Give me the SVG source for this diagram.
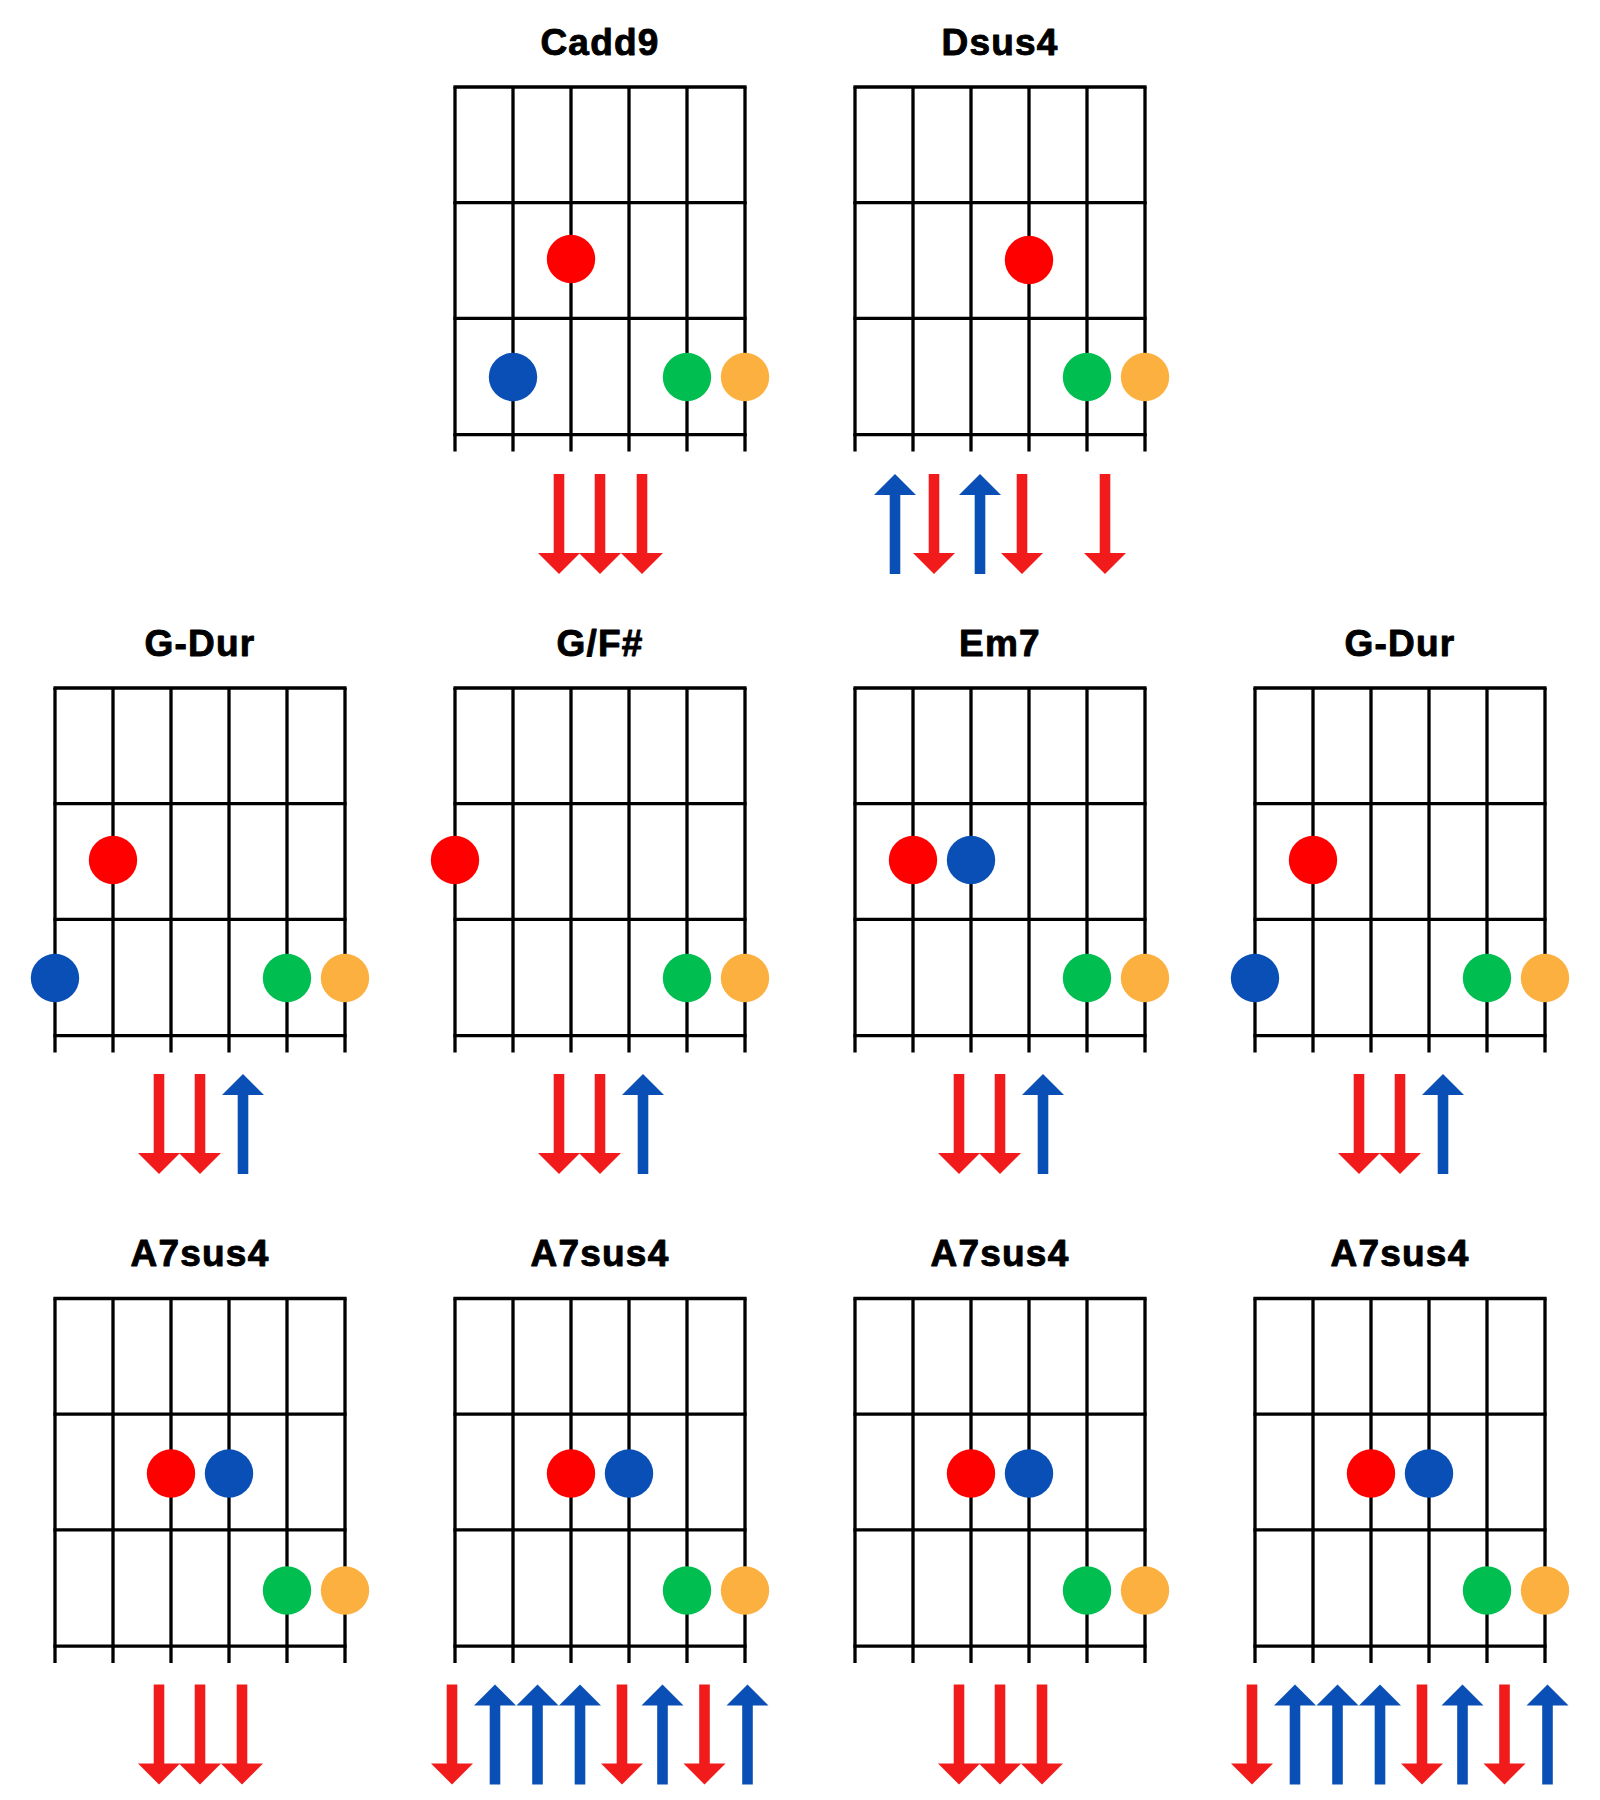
<svg xmlns="http://www.w3.org/2000/svg" xmlns:xlink="http://www.w3.org/1999/xlink" width="1600" height="1800" viewBox="0 0 1600 1800">
  <style>
    .title { font-family: "Liberation Sans", Arial, sans-serif; font-weight: 700; font-size: 37px; fill: #000; stroke: #000; stroke-width: 0.9px; stroke-linejoin: round; text-anchor: middle; letter-spacing: 1.2px; }
    .grid line { stroke: #000; stroke-width: 3.3; }
    .dr { fill: #ff0000; }
    .db { fill: #0a4fb5; }
    .dg { fill: #00bf50; }
    .do { fill: #fbb040; }
    .ar { fill: #f21b1b; }
    .ab { fill: #0a4fb5; }
  </style>
  <defs>
    <g id="grid" class="grid">
      <line x1="-1.6" y1="0" x2="291.6" y2="0"/>
      <line x1="-1.6" y1="115.7" x2="291.6" y2="115.7"/>
      <line x1="-1.6" y1="231.4" x2="291.6" y2="231.4"/>
      <line x1="-1.6" y1="347.7" x2="291.6" y2="347.7"/>
      <line x1="0" y1="0" x2="0" y2="364.5"/>
      <line x1="58" y1="0" x2="58" y2="364.5"/>
      <line x1="116" y1="0" x2="116" y2="364.5"/>
      <line x1="174" y1="0" x2="174" y2="364.5"/>
      <line x1="232" y1="0" x2="232" y2="364.5"/>
      <line x1="290" y1="0" x2="290" y2="364.5"/>
    </g>
    <path id="dn" d="M-5.3,0 H5.3 V79 H21 L0,100 L-21,79 H-5.3 Z"/>
    <path id="up" d="M-5.3,100 H5.3 V21 H21 L0,0 L-21,21 H-5.3 Z"/>
  </defs>
  <rect x="0" y="0" width="1600" height="1800" fill="#ffffff"/>

  <!-- Row 1 -->
  <g id="chord-cadd9" transform="translate(455,87)">
    <text class="title" x="145" y="-32.5">Cadd9</text>
    <use xlink:href="#grid" href="#grid"/>
    <circle class="dr" cx="116" cy="172" r="24.2"/>
    <circle class="db" cx="58" cy="290" r="24.2"/>
    <circle class="dg" cx="232" cy="290" r="24.2"/>
    <circle class="do" cx="290" cy="290" r="24.2"/>
    <use class="ar" xlink:href="#dn" href="#dn" x="104" y="387"/>
    <use class="ar" xlink:href="#dn" href="#dn" x="145" y="387"/>
    <use class="ar" xlink:href="#dn" href="#dn" x="187" y="387"/>
  </g>

  <g id="chord-dsus4" transform="translate(855,87)">
    <text class="title" x="145" y="-32.5">Dsus4</text>
    <use xlink:href="#grid" href="#grid"/>
    <circle class="dr" cx="174" cy="173" r="24.2"/>
    <circle class="dg" cx="232" cy="290" r="24.2"/>
    <circle class="do" cx="290" cy="290" r="24.2"/>
    <use class="ab" xlink:href="#up" href="#up" x="40" y="387"/>
    <use class="ar" xlink:href="#dn" href="#dn" x="79" y="387"/>
    <use class="ab" xlink:href="#up" href="#up" x="125" y="387"/>
    <use class="ar" xlink:href="#dn" href="#dn" x="167" y="387"/>
    <use class="ar" xlink:href="#dn" href="#dn" x="250" y="387"/>
  </g>

  <!-- Row 2 -->
  <g id="chord-gdur-1" transform="translate(55,688)">
    <text class="title" x="145" y="-32.5">G-Dur</text>
    <use xlink:href="#grid" href="#grid"/>
    <circle class="dr" cx="58" cy="172" r="24.2"/>
    <circle class="db" cx="0" cy="290" r="24.2"/>
    <circle class="dg" cx="232" cy="290" r="24.2"/>
    <circle class="do" cx="290" cy="290" r="24.2"/>
    <use class="ar" xlink:href="#dn" href="#dn" x="104" y="386"/>
    <use class="ar" xlink:href="#dn" href="#dn" x="145" y="386"/>
    <use class="ab" xlink:href="#up" href="#up" x="188" y="386"/>
  </g>

  <g id="chord-gfsharp" transform="translate(455,688)">
    <text class="title" x="145" y="-32.5">G/F#</text>
    <use xlink:href="#grid" href="#grid"/>
    <circle class="dr" cx="0" cy="172" r="24.2"/>
    <circle class="dg" cx="232" cy="290" r="24.2"/>
    <circle class="do" cx="290" cy="290" r="24.2"/>
    <use class="ar" xlink:href="#dn" href="#dn" x="104" y="386"/>
    <use class="ar" xlink:href="#dn" href="#dn" x="145" y="386"/>
    <use class="ab" xlink:href="#up" href="#up" x="188" y="386"/>
  </g>

  <g id="chord-em7" transform="translate(855,688)">
    <text class="title" x="145" y="-32.5">Em7</text>
    <use xlink:href="#grid" href="#grid"/>
    <circle class="dr" cx="58" cy="172" r="24.2"/>
    <circle class="db" cx="116" cy="172" r="24.2"/>
    <circle class="dg" cx="232" cy="290" r="24.2"/>
    <circle class="do" cx="290" cy="290" r="24.2"/>
    <use class="ar" xlink:href="#dn" href="#dn" x="104" y="386"/>
    <use class="ar" xlink:href="#dn" href="#dn" x="145" y="386"/>
    <use class="ab" xlink:href="#up" href="#up" x="188" y="386"/>
  </g>

  <g id="chord-gdur-2" transform="translate(1255,688)">
    <text class="title" x="145" y="-32.5">G-Dur</text>
    <use xlink:href="#grid" href="#grid"/>
    <circle class="dr" cx="58" cy="172" r="24.2"/>
    <circle class="db" cx="0" cy="290" r="24.2"/>
    <circle class="dg" cx="232" cy="290" r="24.2"/>
    <circle class="do" cx="290" cy="290" r="24.2"/>
    <use class="ar" xlink:href="#dn" href="#dn" x="104" y="386"/>
    <use class="ar" xlink:href="#dn" href="#dn" x="145" y="386"/>
    <use class="ab" xlink:href="#up" href="#up" x="188" y="386"/>
  </g>

  <!-- Row 3 -->
  <g id="chord-a7sus4-1" transform="translate(55,1298.5)">
    <text class="title" x="145" y="-32.5">A7sus4</text>
    <use xlink:href="#grid" href="#grid"/>
    <circle class="dr" cx="116" cy="175" r="24.2"/>
    <circle class="db" cx="174" cy="175" r="24.2"/>
    <circle class="dg" cx="232" cy="292" r="24.2"/>
    <circle class="do" cx="290" cy="292" r="24.2"/>
    <use class="ar" xlink:href="#dn" href="#dn" x="104" y="386"/>
    <use class="ar" xlink:href="#dn" href="#dn" x="145" y="386"/>
    <use class="ar" xlink:href="#dn" href="#dn" x="187" y="386"/>
  </g>

  <g id="chord-a7sus4-2" transform="translate(455,1298.5)">
    <text class="title" x="145" y="-32.5">A7sus4</text>
    <use xlink:href="#grid" href="#grid"/>
    <circle class="dr" cx="116" cy="175" r="24.2"/>
    <circle class="db" cx="174" cy="175" r="24.2"/>
    <circle class="dg" cx="232" cy="292" r="24.2"/>
    <circle class="do" cx="290" cy="292" r="24.2"/>
    <use class="ar" xlink:href="#dn" href="#dn" x="-3" y="386"/>
    <use class="ab" xlink:href="#up" href="#up" x="40" y="386"/>
    <use class="ab" xlink:href="#up" href="#up" x="82.5" y="386"/>
    <use class="ab" xlink:href="#up" href="#up" x="125" y="386"/>
    <use class="ar" xlink:href="#dn" href="#dn" x="167" y="386"/>
    <use class="ab" xlink:href="#up" href="#up" x="207.5" y="386"/>
    <use class="ar" xlink:href="#dn" href="#dn" x="249.5" y="386"/>
    <use class="ab" xlink:href="#up" href="#up" x="292.5" y="386"/>
  </g>

  <g id="chord-a7sus4-3" transform="translate(855,1298.5)">
    <text class="title" x="145" y="-32.5">A7sus4</text>
    <use xlink:href="#grid" href="#grid"/>
    <circle class="dr" cx="116" cy="175" r="24.2"/>
    <circle class="db" cx="174" cy="175" r="24.2"/>
    <circle class="dg" cx="232" cy="292" r="24.2"/>
    <circle class="do" cx="290" cy="292" r="24.2"/>
    <use class="ar" xlink:href="#dn" href="#dn" x="104" y="386"/>
    <use class="ar" xlink:href="#dn" href="#dn" x="145" y="386"/>
    <use class="ar" xlink:href="#dn" href="#dn" x="187" y="386"/>
  </g>

  <g id="chord-a7sus4-4" transform="translate(1255,1298.5)">
    <text class="title" x="145" y="-32.5">A7sus4</text>
    <use xlink:href="#grid" href="#grid"/>
    <circle class="dr" cx="116" cy="175" r="24.2"/>
    <circle class="db" cx="174" cy="175" r="24.2"/>
    <circle class="dg" cx="232" cy="292" r="24.2"/>
    <circle class="do" cx="290" cy="292" r="24.2"/>
    <use class="ar" xlink:href="#dn" href="#dn" x="-3" y="386"/>
    <use class="ab" xlink:href="#up" href="#up" x="40" y="386"/>
    <use class="ab" xlink:href="#up" href="#up" x="82.5" y="386"/>
    <use class="ab" xlink:href="#up" href="#up" x="125" y="386"/>
    <use class="ar" xlink:href="#dn" href="#dn" x="167" y="386"/>
    <use class="ab" xlink:href="#up" href="#up" x="207.5" y="386"/>
    <use class="ar" xlink:href="#dn" href="#dn" x="249.5" y="386"/>
    <use class="ab" xlink:href="#up" href="#up" x="292.5" y="386"/>
  </g>

  <g id="connectors"></g>
</svg>
